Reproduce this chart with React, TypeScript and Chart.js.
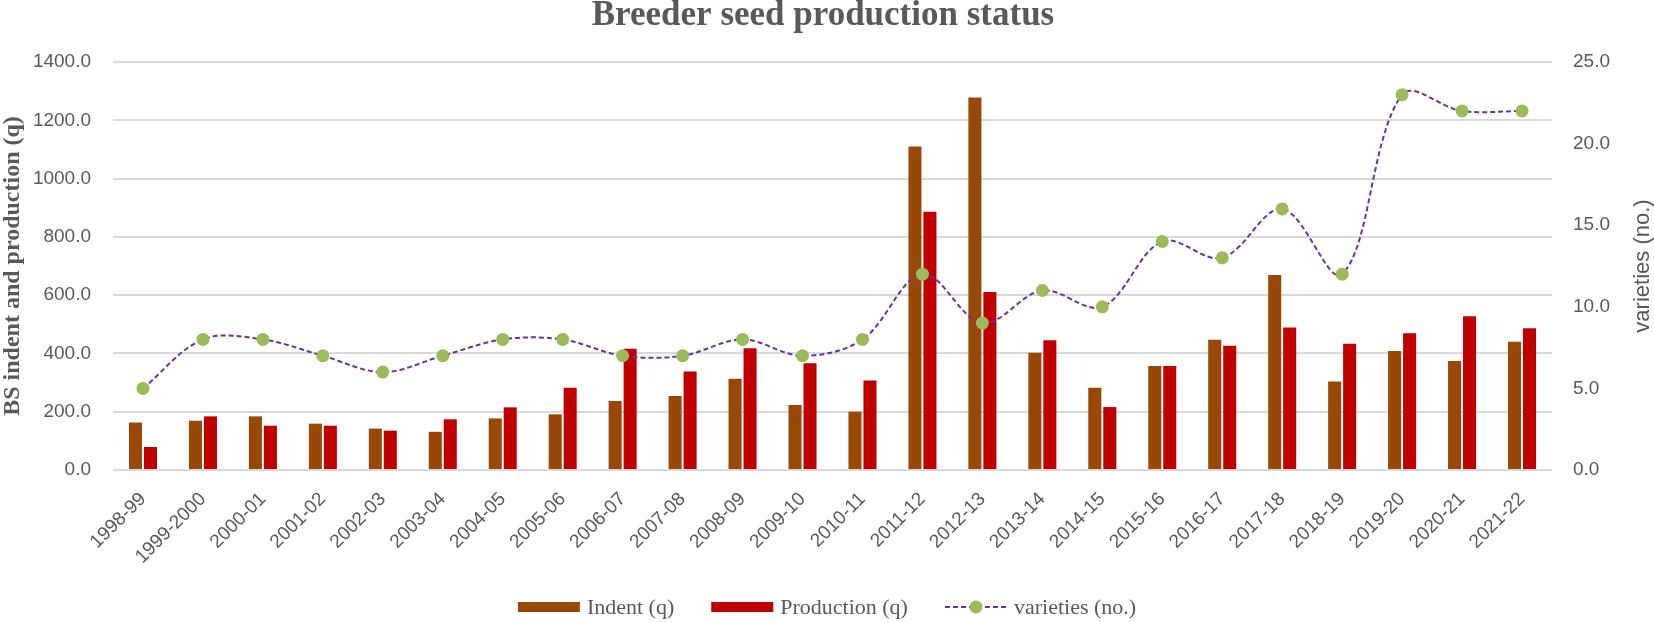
import React, { useEffect, useRef } from "react";
import { Chart, registerables } from "chart.js";

Chart.register(...registerables);

const seasons = [
  "1998-99", "1999-2000", "2000-01", "2001-02", "2002-03", "2003-04",
  "2004-05", "2005-06", "2006-07", "2007-08", "2008-09", "2009-10",
  "2010-11", "2011-12", "2012-13", "2013-14", "2014-15", "2015-16",
  "2016-17", "2017-18", "2018-19", "2019-20", "2020-21", "2021-22",
];

const indent = [163, 169, 184, 159, 142, 131, 177, 191, 237, 254, 313, 223, 200, 1110, 1278, 402, 282, 357, 447, 669, 304, 408, 374, 440];
const production = [79, 184, 152, 152, 135, 174, 215, 282, 416, 338, 418, 366, 307, 886, 611, 445, 216, 357, 426, 489, 433, 469, 528, 486];
const varieties = [5, 8, 8, 7, 6, 7, 8, 8, 7, 7, 8, 7, 8, 12, 9, 11, 10, 14, 13, 16, 12, 23, 22, 22];

const W = 1654;
const H = 622;
const GREY = "#595959";
const BROWN = "#984807";
const RED = "#C00000";
const PURPLE = "#7030A0";
const GREEN = "#9BBB59";

const App: React.FC = () => {
  const canvasRef = useRef<HTMLCanvasElement | null>(null);

  useEffect(() => {
    if (!canvasRef.current) return;
    const ctx = canvasRef.current.getContext("2d");
    if (!ctx) return;

    const chart = new Chart(ctx, {
      type: "bar",
      data: {
        labels: seasons,
        datasets: [
          {
            type: "line",
            label: "varieties (no.)",
            data: varieties,
            yAxisID: "y1",
            borderColor: PURPLE,
            borderWidth: 2,
            borderDash: [5, 3],
            tension: 0.35,
            pointRadius: 6.5,
            pointBackgroundColor: GREEN,
            pointBorderWidth: 0,
            order: 0,
          },
          {
            label: "Indent (q)",
            data: indent,
            backgroundColor: BROWN,
            barPercentage: 0.87,
            categoryPercentage: 0.5,
            order: 1,
          },
          {
            label: "Production (q)",
            data: production,
            backgroundColor: RED,
            barPercentage: 0.87,
            categoryPercentage: 0.5,
            order: 1,
          },
        ],
      },
      options: {
        responsive: true,
        maintainAspectRatio: false,
        animation: false,
        layout: { padding: { top: 62, bottom: 0, left: 0, right: 0 } },
        plugins: {
          legend: { display: false },
          tooltip: { enabled: false },
          title: { display: false },
        },
        scales: {
          x: {
            grid: { display: false },
            border: { display: false },
            ticks: {
              color: GREY,
              font: { family: "'Liberation Sans', Arial, sans-serif", size: 19 },
              minRotation: 45,
              maxRotation: 45,
              autoSkip: false,
              padding: 10,
            },
            afterFit: (scale) => {
              scale.height = 152;
            },
          },
          y: {
            position: "left",
            min: 0,
            max: 1400,
            grid: { color: "#D9D9D9", lineWidth: 2, drawTicks: false },
            border: { display: false },
            ticks: {
              stepSize: 200,
              color: GREY,
              padding: 22,
              font: { family: "'Liberation Sans', Arial, sans-serif", size: 19 },
              callback: (v) => Number(v).toFixed(1),
            },
            afterFit: (scale) => {
              scale.width = 113;
            },
          },
          y1: {
            position: "right",
            min: 0,
            max: 25,
            grid: { drawOnChartArea: false, drawTicks: false },
            border: { display: false },
            ticks: {
              stepSize: 5,
              color: GREY,
              padding: 21,
              font: { family: "'Liberation Sans', Arial, sans-serif", size: 19 },
              callback: (v) => Number(v).toFixed(1),
            },
            afterFit: (scale) => {
              scale.width = 102;
            },
          },
        },
      },
      plugins: [
        {
          id: "decorations",
          afterDraw: (c) => {
            const g = c.ctx;
            const area = c.chartArea;
            const midY = (area.top + area.bottom) / 2;
            g.save();

            // title
            g.fillStyle = GREY;
            g.font = "bold 35px 'Liberation Serif', 'Times New Roman', serif";
            g.textAlign = "center";
            g.textBaseline = "alphabetic";
            g.fillText("Breeder seed production status", W / 2 - 4, 25);

            // left axis title
            g.save();
            g.translate(13, midY);
            g.rotate(-Math.PI / 2);
            g.font = "bold 24px 'Liberation Serif', 'Times New Roman', serif";
            g.textBaseline = "middle";
            g.fillText("BS indent and production (q)", 0, 0);
            g.restore();

            // right axis title
            g.save();
            g.translate(1643, midY);
            g.rotate(-Math.PI / 2);
            g.font = "22px 'Liberation Sans', Arial, sans-serif";
            g.textBaseline = "middle";
            g.fillText("varieties (no.)", 0, 0);
            g.restore();

            // legend
            const ds = c.data.datasets;
            const items = [ds[1], ds[2], ds[0]];
            g.font = "22px 'Liberation Serif', 'Times New Roman', serif";
            g.textAlign = "left";
            g.textBaseline = "middle";
            const sw = 62;
            const gap = 7;
            const itemGap = 37;
            const widths = items.map((d) => sw + gap + g.measureText(String(d.label)).width);
            const total = widths.reduce((a, b) => a + b, 0) + itemGap * (items.length - 1);
            let x = W / 2 - total / 2;
            const ly = 607;
            items.forEach((d, i) => {
              if (d.type === "line") {
                g.save();
                g.strokeStyle = PURPLE;
                g.lineWidth = 2;
                g.setLineDash([5, 3]);
                g.beginPath();
                g.moveTo(x, ly);
                g.lineTo(x + sw, ly);
                g.stroke();
                g.restore();
                g.fillStyle = GREEN;
                g.beginPath();
                g.arc(x + sw / 2, ly, 6.5, 0, Math.PI * 2);
                g.fill();
              } else {
                g.fillStyle = String(d.backgroundColor);
                g.fillRect(x, ly - 5, sw, 10);
              }
              g.fillStyle = GREY;
              g.fillText(String(d.label), x + sw + gap, ly + 1);
              x += widths[i] + itemGap;
            });

            g.restore();
          },
        },
      ],
    });

    return () => {
      chart.destroy();
    };
  }, []);

  return (
    <div style={{ position: "fixed", left: 0, top: 0, width: W, height: H, background: "#fff" }}>
      <canvas ref={canvasRef}></canvas>
    </div>
  );
};

export default App;
